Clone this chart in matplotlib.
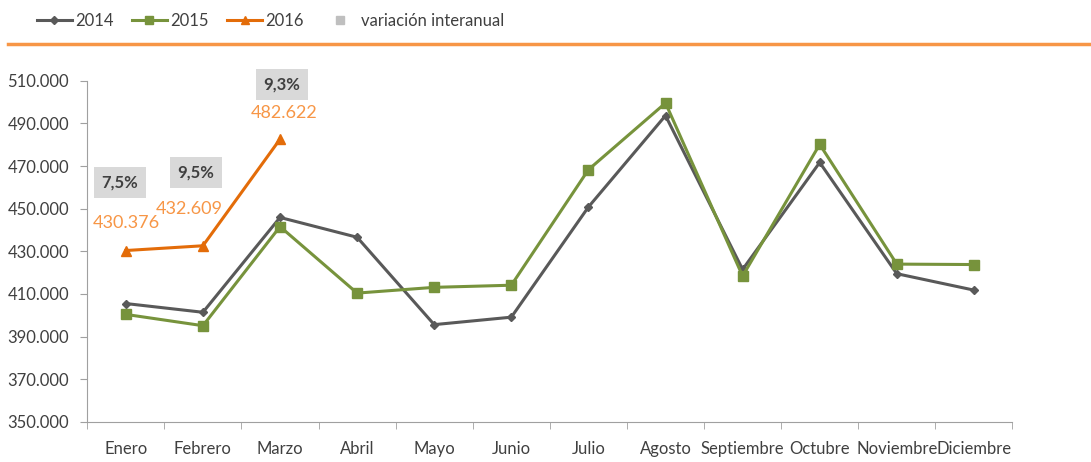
import matplotlib
matplotlib.use("Agg")
import matplotlib.pyplot as plt
from matplotlib.lines import Line2D

plt.rcParams["font.family"] = ["Lato", "DejaVu Sans"]

months = ["Enero", "Febrero", "Marzo", "Abril", "Mayo", "Junio", "Julio",
          "Agosto", "Septiembre", "Octubre", "Noviembre", "Diciembre"]
v2014 = [405500, 401400, 445900, 436600, 395600, 399100, 450800,
         493700, 421500, 471700, 419500, 411800]
v2015 = [400400, 395100, 441600, 410400, 413100, 414100, 468300,
         499600, 418400, 480200, 424000, 423800]
v2016 = [430376, 432609, 482622]
v2016_labels = ["430.376", "432.609", "482.622"]
var_labels = ["7,5%", "9,5%", "9,3%"]
yticks = list(range(350000, 510001, 20000))

GRAY = "#595959"
GREEN = "#77933C"
ORANGE = "#E36C09"
LORANGE = "#F79646"

fig = plt.figure(figsize=(10.91, 4.62), dpi=100)
ax = fig.add_axes([0.080, 0.087, 0.848, 0.738])

x = range(len(months))
ax.plot(x, v2014, "-D", color=GRAY, lw=2.2, ms=4.5, label="2014")
ax.plot(x, v2015, "-s", color=GREEN, lw=2.2, ms=7, label="2015")
ax.plot(range(len(v2016)), v2016, "-^", color=ORANGE, lw=2.2, ms=7, label="2016")

# value labels for 2016 (offset above/left of points)
val_off = [(0.01, 12800), (-0.18, 17200), (0.05, 12300)]
for i, (lab, (dx, dy)) in enumerate(zip(v2016_labels, val_off)):
    ax.text(i + dx, v2016[i] + dy, lab, color=LORANGE, fontsize=13,
            ha="center", va="center")

# interannual variation boxes
var_pos = [(-0.08, 462500), (0.91, 467200), (2.02, 508100)]
for lab, (px, py) in zip(var_labels, var_pos):
    ax.text(px, py, lab, color="#404040", fontsize=12, fontweight="bold",
            ha="center", va="center",
            bbox=dict(boxstyle="square,pad=0.45", fc="#D9D9D9", ec="none"))

ax.set_xlim(-0.5, len(months) - 0.5)
ax.set_ylim(350000, 510000)
ax.set_yticks(yticks)
ax.set_yticklabels([f"{t:,}".replace(",", ".") for t in yticks])
ax.set_xticks(list(x))
ax.set_xticklabels(months)
ax.set_xticks([i - 0.5 for i in range(len(months) + 1)], minor=True)
ax.tick_params(axis="x", which="major", length=0, pad=14)
ax.tick_params(axis="x", which="minor", length=5, color="#A0A0A0")
ax.tick_params(axis="y", length=5, color="#A0A0A0", pad=8)
ax.tick_params(labelsize=12, labelcolor="#404040")
for s in ["top", "right"]:
    ax.spines[s].set_visible(False)
for s in ["left", "bottom"]:
    ax.spines[s].set_color("#A0A0A0")

handles = [
    Line2D([], [], color=GRAY, marker="D", lw=2.2, ms=4.5),
    Line2D([], [], color=GREEN, marker="s", lw=2.2, ms=6),
    Line2D([], [], color=ORANGE, marker="^", lw=2.2, ms=6),
    Line2D([], [], color="#BFBFBF", marker="s", lw=0, ms=6),
]
fig.legend(handles, ["2014", "2015", "2016", "variación interanual"],
           loc="upper left", bbox_to_anchor=(0.02, 1.005), ncol=4, frameon=False,
           fontsize=12, handlelength=2.1, handletextpad=0.2, columnspacing=1.1,
           labelcolor="#404040")

fig.add_artist(Line2D([0.007, 1.0], [0.905, 0.905], color=LORANGE, lw=2.5,
                      transform=fig.transFigure))

fig.savefig("out.png", dpi=100)
